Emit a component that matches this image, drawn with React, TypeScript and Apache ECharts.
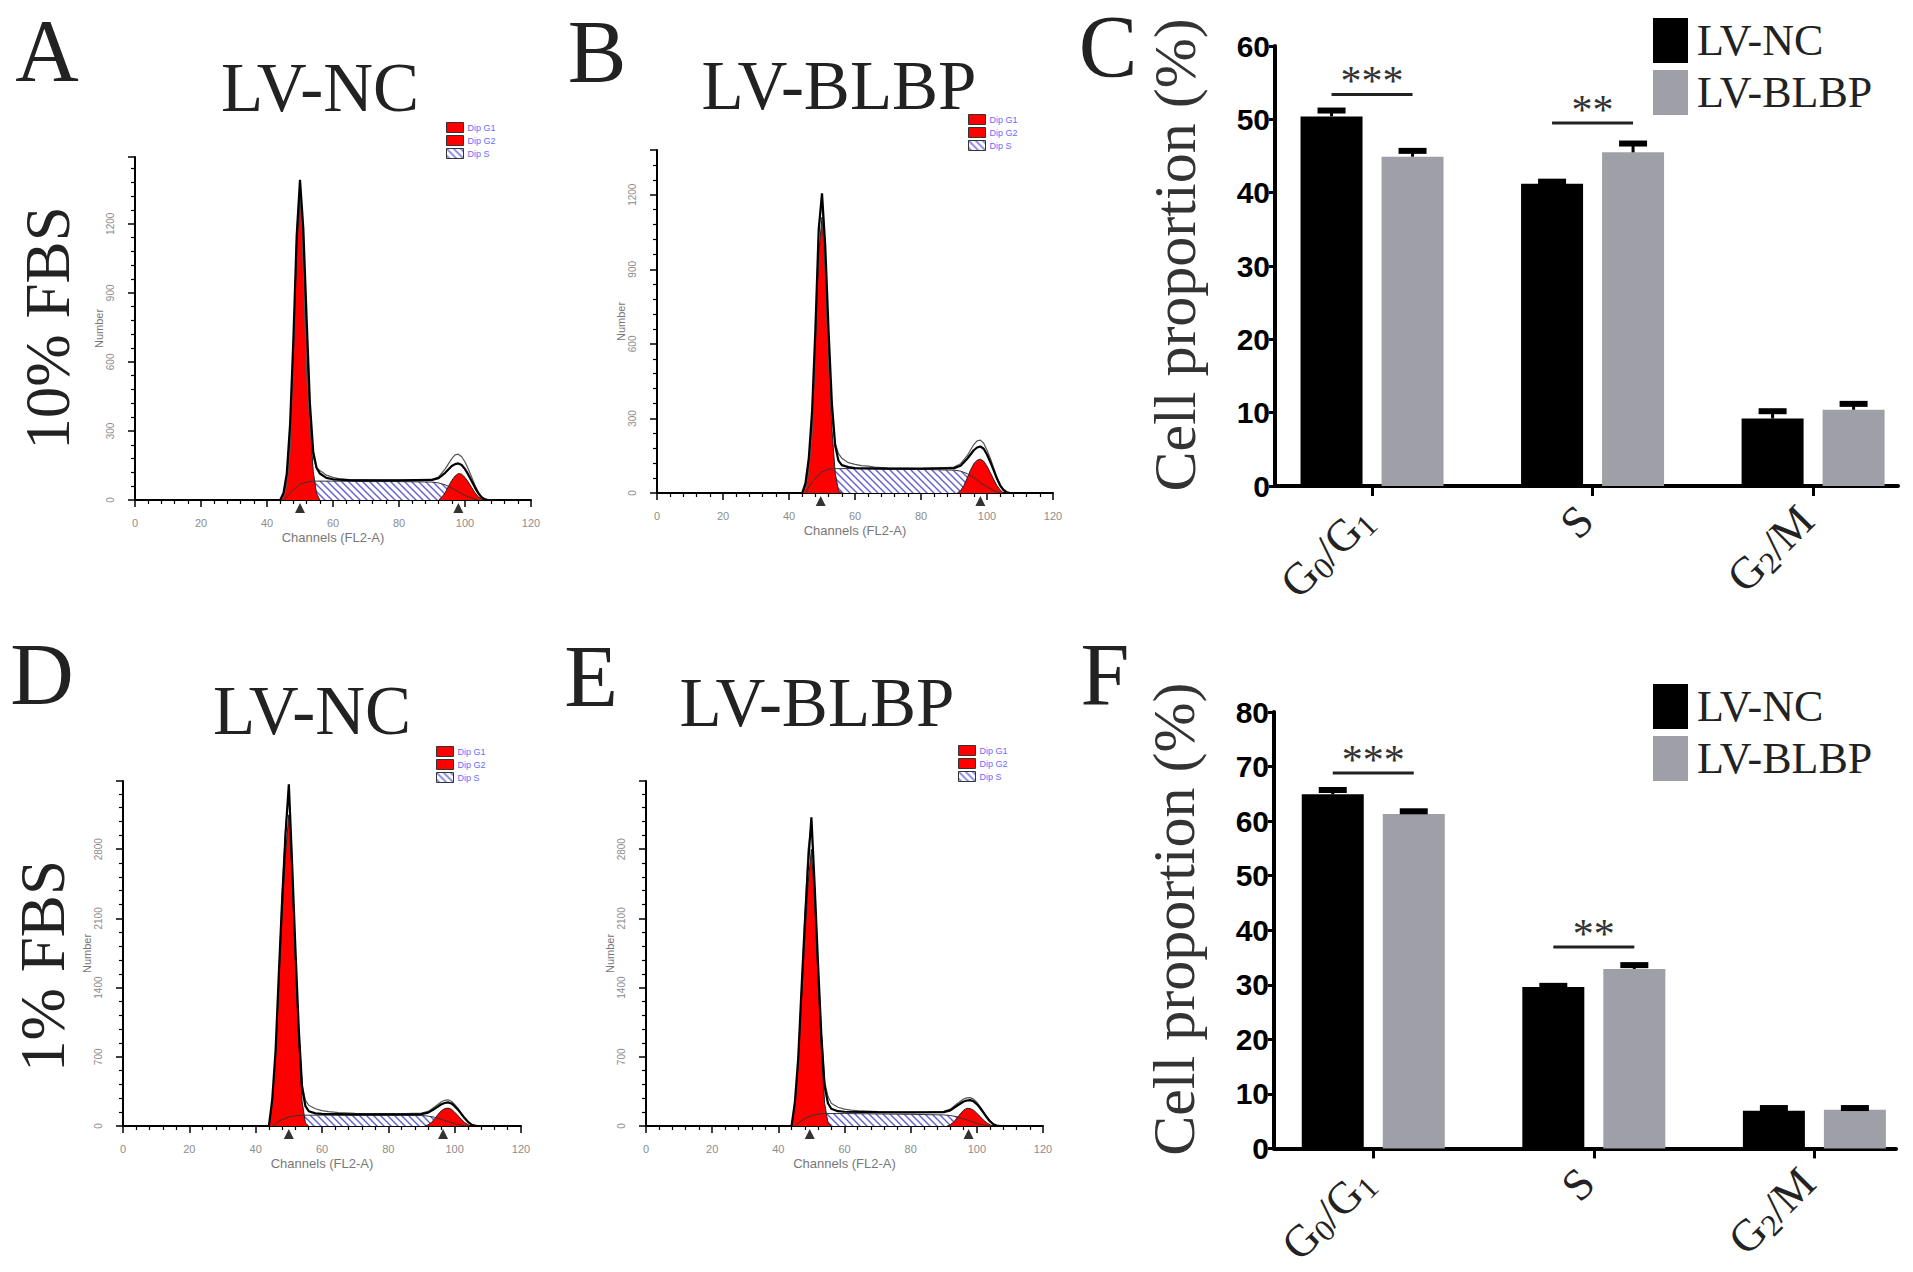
import React, { useEffect, useRef } from "react";
import * as echarts from "echarts";

// ---------- bar charts (C: 10% FBS, F: 1% FBS) ----------
const PHASES = ["G0/G1", "S", "G2/M"];
const GROUPS = ["LV-NC", "LV-BLBP"];

const C_NC = [50.4, 41.2, 9.2];
const C_NC_ERR = [0.8, 0.3, 1.0];
const C_BLBP = [44.9, 45.5, 10.4];
const C_BLBP_ERR = [0.8, 1.2, 0.8];
const C_SIG = [[0, 53.4], [1, 49.5]];
const C_STARS = ["***", "**"];

const F_NC = [64.9, 29.6, 6.9];
const F_NC_ERR = [0.8, 0.2, 0.5];
const F_BLBP = [61.3, 32.9, 7.1];
const F_BLBP_ERR = [0.5, 0.7, 0.3];
const F_SIG = [[0, 68.8], [1, 36.9]];
const F_STARS = ["***", "**"];

// ---------- DNA histograms [channel, count] ----------
// A: 10% FBS, LV-NC
const A_G1 = [[44, 0], [45, 25], [46, 100], [47, 300], [48, 660], [49, 1090], [50, 1315], [51, 1150], [52, 750], [53, 360], [54, 125], [55, 30], [56, 0]];
const A_G2 = [[92, 0], [93, 12], [94, 32], [95, 60], [96, 85], [97, 104], [98, 115], [99, 112], [100, 98], [101, 78], [102, 55], [103, 32], [104, 14], [105, 4], [106, 0]];
const A_S = [[45, 0], [46, 15], [48, 45], [50, 68], [52, 78], [54, 82], [60, 82], [70, 80], [80, 80], [90, 78], [92, 74], [94, 66], [96, 52], [98, 36], [100, 20], [102, 8], [104, 0]];
const A_FIT = [[44, 0], [45, 30], [46, 115], [47, 330], [48, 700], [49, 1150], [50, 1391], [51, 1180], [52, 790], [53, 420], [54, 210], [55, 140], [56, 115], [58, 96], [60, 90], [65, 86], [70, 85], [80, 85], [90, 87], [92, 95], [94, 118], [96, 148], [97, 156], [98, 159], [99, 152], [100, 134], [101, 110], [102, 83], [103, 55], [104, 30], [105, 12], [106, 3], [107, 0]];
const A_RAW = [[44, 0], [45, 15], [46, 60], [47, 220], [48, 620], [49, 1150], [50, 1360], [51, 1000], [52, 560], [53, 320], [54, 190], [55, 140], [56, 128], [57, 118], [58, 108], [60, 98], [62, 92], [65, 88], [70, 87], [75, 86], [80, 86], [85, 87], [90, 90], [92, 100], [94, 135], [96, 180], [97, 196], [98, 199], [99, 188], [100, 165], [101, 135], [102, 100], [103, 65], [104, 35], [105, 15], [106, 5], [107, 0]];
const A_MARKS = [50, 98];

// B: 10% FBS, LV-BLBP
const B_G1 = [[44, 0], [45, 30], [46, 110], [47, 290], [48, 600], [49, 960], [50, 1110], [51, 900], [52, 560], [53, 260], [54, 80], [55, 10], [56, 0]];
const B_G2 = [[91, 0], [92, 10], [93, 30], [94, 60], [95, 92], [96, 118], [97, 132], [98, 136], [99, 128], [100, 108], [101, 82], [102, 55], [103, 30], [104, 12], [105, 0]];
const B_S = [[45, 0], [46, 25], [48, 60], [50, 85], [52, 96], [54, 98], [60, 98], [70, 96], [80, 95], [90, 92], [92, 88], [94, 78], [96, 62], [98, 42], [100, 24], [102, 10], [104, 0]];
const B_FIT = [[44, 0], [45, 40], [46, 140], [47, 330], [48, 660], [49, 1060], [50, 1206], [51, 990], [52, 650], [53, 360], [54, 190], [55, 130], [56, 112], [58, 104], [60, 100], [70, 98], [80, 98], [90, 100], [92, 110], [94, 138], [96, 172], [97, 183], [98, 187], [99, 178], [100, 155], [101, 125], [102, 92], [103, 58], [104, 30], [105, 12], [106, 3], [107, 0]];
const B_RAW = [[44, 0], [45, 18], [46, 85], [47, 240], [48, 600], [49, 1050], [50, 1180], [51, 900], [52, 520], [53, 300], [54, 200], [55, 158], [56, 140], [58, 122], [60, 115], [62, 110], [64, 108], [66, 104], [70, 100], [75, 99], [80, 98], [85, 100], [90, 104], [92, 118], [94, 150], [96, 195], [97, 210], [98, 213], [99, 200], [100, 172], [101, 140], [102, 102], [103, 64], [104, 34], [105, 14], [106, 4], [107, 0]];
const B_MARKS = [49.6, 98];

// D: 1% FBS, LV-NC
const D_G1 = [[44, 0], [45, 250], [46, 700], [47, 1450], [48, 2150], [49, 2750], [50, 3148], [51, 2500], [52, 1650], [53, 850], [54, 250], [55, 30], [56, 0]];
const D_G2 = [[91, 0], [92, 12], [93, 35], [94, 75], [95, 118], [96, 155], [97, 176], [98, 181], [99, 170], [100, 140], [101, 105], [102, 68], [103, 36], [104, 14], [105, 0]];
const D_S = [[45, 0], [46, 25], [48, 65], [50, 90], [52, 104], [54, 109], [60, 110], [70, 108], [80, 108], [90, 106], [92, 100], [94, 88], [96, 68], [98, 45], [100, 24], [102, 9], [104, 0]];
const D_FIT = [[44, 0], [45, 270], [46, 760], [47, 1550], [48, 2300], [49, 2950], [50, 3457], [51, 2650], [52, 1780], [53, 980], [54, 390], [55, 200], [56, 150], [58, 128], [60, 122], [70, 118], [80, 118], [90, 120], [92, 135], [94, 175], [96, 220], [97, 233], [98, 239], [99, 228], [100, 200], [101, 165], [102, 122], [103, 80], [104, 42], [105, 16], [106, 4], [107, 0]];
const D_RAW = [[44, 0], [45, 230], [46, 700], [47, 1500], [48, 2350], [49, 3000], [50, 3400], [51, 2600], [52, 1700], [53, 960], [54, 420], [55, 260], [56, 210], [58, 175], [60, 155], [62, 145], [65, 135], [70, 128], [75, 126], [80, 125], [85, 126], [90, 130], [92, 148], [94, 195], [96, 245], [97, 260], [98, 265], [99, 250], [100, 218], [101, 178], [102, 130], [103, 85], [104, 45], [105, 18], [106, 5], [107, 0]];
const D_MARKS = [50, 96.5];

// E: 1% FBS, LV-BLBP
const E_G1 = [[44, 0], [45, 220], [46, 620], [47, 1280], [48, 1900], [49, 2450], [50, 2800], [51, 2250], [52, 1480], [53, 760], [54, 230], [55, 30], [56, 0]];
const E_G2 = [[91, 0], [92, 14], [93, 40], [94, 80], [95, 122], [96, 160], [97, 179], [98, 176], [99, 160], [100, 130], [101, 95], [102, 60], [103, 32], [104, 12], [105, 0]];
const E_S = [[45, 0], [46, 30], [48, 75], [50, 105], [52, 120], [54, 126], [60, 126], [70, 122], [80, 118], [90, 112], [92, 106], [94, 94], [96, 74], [98, 50], [100, 27], [102, 10], [104, 0]];
const E_FIT = [[44, 0], [45, 240], [46, 680], [47, 1380], [48, 2050], [49, 2650], [50, 3123], [51, 2420], [52, 1640], [53, 920], [54, 400], [55, 230], [56, 175], [58, 150], [60, 144], [70, 140], [80, 138], [90, 140], [92, 158], [94, 205], [96, 248], [97, 258], [98, 262], [99, 250], [100, 222], [101, 182], [102, 135], [103, 88], [104, 46], [105, 18], [106, 5], [107, 0]];
const E_RAW = [[44, 0], [45, 200], [46, 640], [47, 1350], [48, 2100], [49, 2800], [50, 3050], [51, 2380], [52, 1600], [53, 950], [54, 450], [55, 300], [56, 230], [58, 190], [60, 170], [62, 160], [65, 152], [70, 145], [75, 142], [80, 140], [85, 142], [90, 148], [92, 170], [94, 225], [96, 272], [97, 285], [98, 287], [99, 272], [100, 240], [101, 195], [102, 145], [103, 95], [104, 50], [105, 20], [106, 5], [107, 0]];
const E_MARKS = [49.5, 97.5];

const HISTS = [
  { g1: A_G1, g2: A_G2, s: A_S, fit: A_FIT, raw: A_RAW, marks: A_MARKS, yMax: 1490, yStep: 300 },
  { g1: B_G1, g2: B_G2, s: B_S, fit: B_FIT, raw: B_RAW, marks: B_MARKS, yMax: 1380, yStep: 300 },
  { g1: D_G1, g2: D_G2, s: D_S, fit: D_FIT, raw: D_RAW, marks: D_MARKS, yMax: 3490, yStep: 700 },
  { g1: E_G1, g2: E_G2, s: E_S, fit: E_FIT, raw: E_RAW, marks: E_MARKS, yMax: 3490, yStep: 700 },
];

// layout in page pixels
const HIST_BOX = [
  { left: 135, top: 157, width: 396, height: 343, legend: [446, 122] },
  { left: 657, top: 150, width: 396, height: 343, legend: [968, 114] },
  { left: 123, top: 781, width: 398, height: 345, legend: [436, 746] },
  { left: 646, top: 781, width: 397, height: 345, legend: [958, 745] },
];
const BAR_BOX = [
  { left: 1275, top: 46, width: 623, height: 440, xMin: -0.44, xMax: 2.385, yMax: 60, legendTop: 18 },
  { left: 1274, top: 712, width: 622, height: 440, xMin: -0.45, xMax: 2.37, yMax: 80, legendTop: 684 },
];
const BAR_W = 62;
const BAR_GAP = 19;

const SERIF = '"Liberation Serif", "Times New Roman", serif';
const SANS = '"Liberation Sans", Arial, sans-serif';
const NARROW = '"Liberation Sans Narrow", "Liberation Sans", Arial, sans-serif';

function hatchPattern() {
  const c = document.createElement("canvas");
  c.width = 7;
  c.height = 7;
  const g = c.getContext("2d");
  g.fillStyle = "#ffffff";
  g.fillRect(0, 0, 7, 7);
  g.strokeStyle = "#5f5fd6";
  g.lineWidth = 1.4;
  g.beginPath();
  g.moveTo(-1, -1);
  g.lineTo(8, 8);
  g.moveTo(-1, 6);
  g.lineTo(1, 8);
  g.moveTo(6, -1);
  g.lineTo(8, 1);
  g.stroke();
  return { image: c.toDataURL(), repeat: "repeat", imageWidth: 7, imageHeight: 7 };
}

const richLabel = (p: string) =>
  p.replace(/([A-Z/]+)/g, "{m|$1}").replace(/(\d)/g, "{s|$1}");

const App = () => {
  const ref = useRef<HTMLDivElement>(null);

  useEffect(() => {
    document.body.style.margin = "0";
    const chart = echarts.init(ref.current, null, { renderer: "svg" });
    const hatch = hatchPattern();

    const grid: any[] = [];
    const xAxis: any[] = [];
    const yAxis: any[] = [];
    const series: any[] = [];
    const legend: any[] = [];

    // histograms
    HISTS.forEach((h, i) => {
      const b = HIST_BOX[i];
      grid.push({ left: b.left, top: b.top, width: b.width, height: b.height });
      const axisLine = { show: true, onZero: false, lineStyle: { color: "#000", width: 2 } };
      xAxis.push({
        type: "value",
        gridIndex: i,
        min: 0,
        max: 120,
        interval: 20,
        axisLine,
        axisTick: { show: true, length: 7, lineStyle: { color: "#000", width: 1.5 } },
        minorTick: { show: true, splitNumber: 5, length: 4, lineStyle: { color: "#000", width: 1.2 } },
        axisLabel: { color: "#8c8c8c", fontSize: 11, margin: 17, fontFamily: SANS },
        splitLine: { show: false },
        name: "Channels (FL2-A)",
        nameLocation: "middle",
        nameGap: 31,
        nameTextStyle: { color: "#777", fontSize: 13, fontFamily: SANS },
      });
      yAxis.push({
        type: "value",
        gridIndex: i,
        min: 0,
        max: h.yMax,
        interval: h.yStep,
        axisLine,
        axisTick: { show: true, length: 7, lineStyle: { color: "#000", width: 1.5 } },
        minorTick: { show: true, splitNumber: 5, length: 4, lineStyle: { color: "#000", width: 1.2 } },
        axisLabel: {
          rotate: 90,
          color: "#8c8c8c",
          fontSize: 10,
          margin: 20,
          fontFamily: SANS,
          showMaxLabel: false,
          formatter: (v: number) => String(v),
        },
        splitLine: { show: false },
        name: "Number",
        nameLocation: "middle",
        nameGap: 31,
        nameTextStyle: { color: "#777", fontSize: 11, fontFamily: SANS },
      });
      const base = { type: "line", xAxisIndex: i, yAxisIndex: i, symbol: "none", silent: true };
      series.push(
        { ...base, name: "Dip S", data: h.s, lineStyle: { width: 0 }, areaStyle: { color: hatch, opacity: 1 } },
        { ...base, name: "Dip G1", data: h.g1, lineStyle: { color: "#222", width: 1 }, areaStyle: { color: "#ff0000", opacity: 1 }, itemStyle: { color: "#ff0000" } },
        { ...base, name: "Dip G2", data: h.g2, lineStyle: { color: "#222", width: 1 }, areaStyle: { color: "#ff0000", opacity: 1 }, itemStyle: { color: "#ff0000" } },
        { ...base, name: "S model", data: h.s, lineStyle: { color: "#333", width: 1 } },
        { ...base, name: "Data", data: h.raw, lineStyle: { color: "#555", width: 1.2 } },
        { ...base, name: "Model", data: h.fit, lineStyle: { color: "#000", width: 2.2 } },
        {
          type: "scatter",
          name: "Mean",
          xAxisIndex: i,
          yAxisIndex: i,
          data: h.marks.map((c) => [c, 0]),
          symbol: "triangle",
          symbolSize: [10, 10],
          symbolOffset: [0, 8],
          itemStyle: { color: "#000" },
          clip: false,
          silent: true,
          z: 5,
        }
      );
      legend.push({
        left: b.legend[0],
        top: b.legend[1],
        orient: "vertical",
        itemWidth: 17,
        itemHeight: 10,
        itemGap: 2,
        padding: 0,
        selectedMode: false,
        textStyle: { color: "#6a6aff", fontSize: 9, fontFamily: SANS, padding: [0, 0, 0, -1] },
        data: [
          { name: "Dip G1", icon: "rect", itemStyle: { color: "#ff0000", borderColor: "#333", borderWidth: 1 } },
          { name: "Dip G2", icon: "rect", itemStyle: { color: "#ff0000", borderColor: "#333", borderWidth: 1 } },
          { name: "Dip S", icon: "rect", itemStyle: { color: hatch, borderColor: "#333", borderWidth: 1 } },
        ],
      });
    });

    // bar charts
    const bars = [
      { nc: C_NC, ncErr: C_NC_ERR, bl: C_BLBP, blErr: C_BLBP_ERR, sig: C_SIG, stars: C_STARS },
      { nc: F_NC, ncErr: F_NC_ERR, bl: F_BLBP, blErr: F_BLBP_ERR, sig: F_SIG, stars: F_STARS },
    ];
    const half = (BAR_W + BAR_GAP) / 2;
    bars.forEach((d, j) => {
      const b = BAR_BOX[j];
      const k = 4 + j;
      grid.push({ left: b.left, top: b.top, width: b.width, height: b.height });
      xAxis.push({
        type: "value",
        gridIndex: k,
        min: b.xMin,
        max: b.xMax,
        axisLine: { show: true, onZero: false, lineStyle: { color: "#000", width: 4 } },
        axisTick: { show: true, customValues: [0, 1, 2], length: 10, lineStyle: { color: "#000", width: 3 } },
        axisLabel: {
          customValues: [0, 1, 2],
          rotate: 45,
          margin: 20,
          padding: [0, 10, 0, 0],
          color: "#222",
          formatter: (v: number) => richLabel(PHASES[Math.round(v)] || ""),
          rich: {
            m: { fontSize: 45, fontFamily: SERIF, color: "#222", lineHeight: 50 },
            s: { fontSize: 31, fontFamily: SERIF, color: "#222", lineHeight: 26, verticalAlign: "bottom" },
          },
        },
        splitLine: { show: false },
      });
      yAxis.push({
        type: "value",
        gridIndex: k,
        min: 0,
        max: b.yMax,
        interval: 10,
        axisLine: { show: true, onZero: false, lineStyle: { color: "#000", width: 4 } },
        axisTick: { show: true, length: 6, lineStyle: { color: "#000", width: 3 } },
        axisLabel: { color: "#000", fontSize: 30, fontWeight: "bold", fontFamily: NARROW, margin: 5 },
        splitLine: { show: false },
        name: "Cell proportion (%)",
        nameLocation: "middle",
        nameGap: 70,
        nameTextStyle: { color: "#333", fontSize: 60, fontFamily: SERIF, lineHeight: 60, padding: [0, 0, 0, 22] },
      });
      const common = { xAxisIndex: k, yAxisIndex: k, silent: true };
      series.push(
        { ...common, type: "bar", name: GROUPS[0], data: d.nc.map((v, c) => [c, v]), barWidth: BAR_W, barGap: (BAR_GAP / BAR_W) * 100 + "%", itemStyle: { color: "#000" } },
        { ...common, type: "bar", name: GROUPS[1], data: d.bl.map((v, c) => [c, v]), barWidth: BAR_W, barGap: (BAR_GAP / BAR_W) * 100 + "%", itemStyle: { color: "#9fa0a7" } }
      );
      [
        { vals: d.nc, errs: d.ncErr, shift: -half },
        { vals: d.bl, errs: d.blErr, shift: half },
      ].forEach((e) => {
        series.push({
          ...common,
          type: "custom",
          name: "error",
          z: 4,
          clip: false,
          data: e.vals.map((v, c) => [c, v, e.errs[c]]),
          renderItem: (params: any, api: any) => {
            const x = api.value(0);
            const v = api.value(1);
            const er = api.value(2);
            const p0 = api.coord([x, v]);
            const p1 = api.coord([x, v + er]);
            const cx = p0[0] + e.shift;
            return {
              type: "group",
              children: [
                { type: "line", shape: { x1: cx, y1: p0[1], x2: cx, y2: p1[1] }, style: { stroke: "#000", lineWidth: 3 } },
                { type: "line", shape: { x1: cx - 14, y1: p1[1], x2: cx + 14, y2: p1[1] }, style: { stroke: "#000", lineWidth: 6 } },
              ],
            };
          },
        });
      });
      series.push({
        ...common,
        type: "custom",
        name: "significance",
        z: 4,
        clip: false,
        data: d.sig,
        renderItem: (params: any, api: any) => {
          const p = api.coord([api.value(0), api.value(1)]);
          return {
            type: "group",
            children: [
              { type: "line", shape: { x1: p[0] - half, y1: p[1], x2: p[0] + half, y2: p[1] }, style: { stroke: "#222", lineWidth: 3 } },
              {
                type: "text",
                x: p[0],
                y: p[1] - 13,
                style: { text: d.stars[params.dataIndex], fontSize: 42, fontFamily: SERIF, fill: "#333", align: "center", verticalAlign: "middle" },
              },
            ],
          };
        },
      });
      legend.push({
        left: 1653,
        top: b.legendTop,
        orient: "vertical",
        itemWidth: 35,
        itemHeight: 45,
        itemGap: 7,
        padding: 0,
        icon: "rect",
        selectedMode: false,
        textStyle: { fontSize: 44, fontFamily: SERIF, color: "#222", padding: [0, 0, 0, 4] },
        data: GROUPS,
      });
    });

    const txt = (text: string, x: number, y: number, size: number, rotation = 0) => ({
      type: "text",
      x,
      y,
      rotation,
      silent: true,
      style: {
        text,
        fontSize: size,
        lineHeight: Math.round(size * 0.8),
        fontFamily: SERIF,
        fill: "#222",
        align: "center",
        verticalAlign: "middle",
      },
    });

    chart.setOption({
      animation: false,
      backgroundColor: "#fff",
      grid,
      xAxis,
      yAxis,
      legend,
      series,
      graphic: [
        txt("A", 47, 50, 88),
        txt("B", 597, 51, 88),
        txt("C", 1108, 46, 88),
        txt("D", 42, 674, 88),
        txt("E", 591, 676, 88),
        txt("F", 1105, 674, 88),
        txt("LV-NC", 320, 88, 69),
        txt("LV-BLBP", 839, 86, 69),
        txt("LV-NC", 312, 711, 69),
        txt("LV-BLBP", 817, 703, 69),
        txt("10% FBS", 48, 328, 63, Math.PI / 2),
        txt("1% FBS", 43, 966, 63, Math.PI / 2),
      ],
    });

    return () => {
      chart.dispose();
    };
  }, []);

  return <div ref={ref} style={{ width: 1913, height: 1272 }}></div>;
};

export default App;
